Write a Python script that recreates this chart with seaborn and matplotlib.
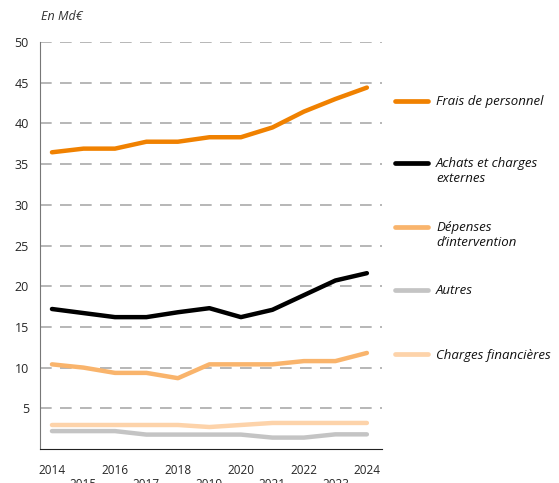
import numpy as np
import pandas as pd
import matplotlib
matplotlib.use("Agg")
import matplotlib.pyplot as plt
import seaborn as sns
from matplotlib.lines import Line2D

years = [2014, 2015, 2016, 2017, 2018, 2019, 2020, 2021, 2022, 2023, 2024]
frais_personnel = [36.45, 36.9, 36.9, 37.75, 37.75, 38.3, 38.3, 39.5, 41.45, 43.0, 44.4]
achats_charges = [17.2, 16.7, 16.2, 16.2, 16.8, 17.3, 16.2, 17.1, 18.9, 20.7, 21.6]
depenses_intervention = [10.4, 10.0, 9.35, 9.35, 8.7, 10.4, 10.4, 10.4, 10.8, 10.8, 11.8]
autres = [2.2, 2.2, 2.2, 1.77, 1.77, 1.77, 1.77, 1.4, 1.4, 1.8, 1.8]
charges_financieres = [2.95, 2.95, 2.95, 2.95, 2.95, 2.7, 2.95, 3.2, 3.2, 3.2, 3.2]

series = ["Frais de personnel", "Achats et charges\nexternes", "Dépenses\nd\u2019intervention",
          "Autres", "Charges financières"]
colors = ["#F08100", "#000000", "#F9B46C", "#C4C4C4", "#FDD3AA"]

df = pd.DataFrame({"year": years,
                   series[0]: frais_personnel,
                   series[1]: achats_charges,
                   series[2]: depenses_intervention,
                   series[3]: autres,
                   series[4]: charges_financieres})
long = df.melt(id_vars="year", var_name="serie", value_name="value")

sns.set_style("white")
plt.rcParams["font.family"] = ["Open Sans", "DejaVu Sans"]

fig = plt.figure(figsize=(5.59, 4.83), dpi=100)
ax = fig.add_axes([40 / 559, 1 - 449 / 483, 342 / 559, 407 / 483])

# draw bottom series first so orange/black stay on top
order = [3, 4, 2, 1, 0]
for i in order:
    sub = long[long["serie"] == series[i]]
    sns.lineplot(data=sub, x="year", y="value", color=colors[i], lw=3.2,
                 ax=ax, legend=False, solid_joinstyle="round", solid_capstyle="round")

ax.set_xlim(2013.62, 2024.48)
ax.set_ylim(0, 50)
ax.set_yticks(np.arange(5, 51, 5))
ax.set_xticks(years)
ax.set_xticklabels([str(y) if y % 2 == 0 else "\n" + str(y) for y in years], fontsize=8.5,
                   linespacing=1.05)
ax.tick_params(axis="x", length=7, width=1, color="#333333", direction="out", pad=4)
ax.tick_params(axis="y", length=0, labelsize=9, pad=8)
ax.set_xlabel("")
ax.set_ylabel("")
for y in np.arange(5, 51, 5):
    ax.axhline(y, color="#AAAAAA", lw=1.2, ls=(0, (7, 5)), zorder=0)
ax.spines["top"].set_visible(False)
ax.spines["right"].set_visible(False)
ax.spines["left"].set_color("#777777")
ax.spines["bottom"].set_color("#222222")

fig.text(41 / 559, 1 - 17 / 483, "En Md€", fontsize=9, style="italic", color="#333333",
         va="center")

# legend
leg_y = [101, 163, 227, 290, 354]
for i in range(5):
    yy = 1 - leg_y[i] / 483
    fig.add_artist(Line2D([395 / 559, 428 / 559], [yy, yy], color=colors[i], lw=3.4,
                          solid_capstyle="round"))
    fig.text(436 / 559, yy + 5.5 / 483, series[i], fontsize=9.5, style="italic",
             color="#111111", va="top", ha="left", linespacing=1.15)

fig.savefig("out.png", dpi=100)
